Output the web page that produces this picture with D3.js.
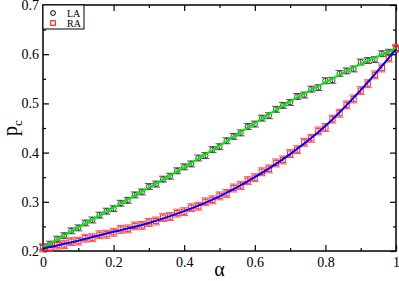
<!DOCTYPE html>
<html>
<head>
<meta charset="utf-8">
<script src="https://cdn.jsdelivr.net/npm/d3@7"></script>
<style>
  html, body { margin: 0; padding: 0; background: #fff; }
  svg { display: block; }
</style>
</head>
<body>
<script>
'use strict';

// alpha values of the simulation points (step 0.02)
const alphas = [0.00, 0.02, 0.04, 0.06, 0.08, 0.10, 0.12, 0.14, 0.16, 0.18,
  0.20, 0.22, 0.24, 0.26, 0.28, 0.30, 0.32, 0.34, 0.36, 0.38,
  0.40, 0.42, 0.44, 0.46, 0.48, 0.50, 0.52, 0.54, 0.56, 0.58,
  0.60, 0.62, 0.64, 0.66, 0.68, 0.70, 0.72, 0.74, 0.76, 0.78,
  0.80, 0.82, 0.84, 0.86, 0.88, 0.90, 0.92, 0.94, 0.96, 0.98, 1.00];

// LA points (black circles)
const laValues = [0.208, 0.214, 0.224, 0.231, 0.241, 0.247, 0.257, 0.263, 0.273, 0.281,
  0.286, 0.297, 0.303, 0.314, 0.320, 0.331, 0.336, 0.346, 0.352, 0.363,
  0.371, 0.377, 0.389, 0.394, 0.406, 0.412, 0.424, 0.433, 0.440, 0.453,
  0.458, 0.470, 0.475, 0.488, 0.496, 0.502, 0.514, 0.517, 0.529, 0.532,
  0.546, 0.547, 0.561, 0.566, 0.570, 0.584, 0.587, 0.589, 0.601, 0.604, 0.611];
const laErr = 0.006;

// RA points (red squares)
const raValues = [0.206, 0.207, 0.212, 0.213, 0.219, 0.220, 0.226, 0.227, 0.233, 0.234,
  0.238, 0.244, 0.245, 0.251, 0.252, 0.258, 0.261, 0.268, 0.270, 0.277,
  0.280, 0.288, 0.291, 0.300, 0.304, 0.312, 0.317, 0.328, 0.333, 0.343,
  0.349, 0.361, 0.367, 0.379, 0.385, 0.398, 0.406, 0.421, 0.429, 0.444,
  0.451, 0.468, 0.480, 0.497, 0.509, 0.526, 0.540, 0.558, 0.572, 0.592, 0.612];
const raErr = 0.008;

// fitted curves
const fitAlphas = [0, 0.1, 0.2, 0.3, 0.4, 0.5, 0.6, 0.7, 0.8, 0.9, 1.0];
const laFit = [0.207, 0.248, 0.288, 0.329, 0.370, 0.414, 0.460, 0.504, 0.543, 0.580, 0.611];
const raFit = [0.205, 0.221, 0.239, 0.257, 0.281, 0.311, 0.350, 0.397, 0.454, 0.527, 0.610];

// ticks
const xTicks = [0, 0.2, 0.4, 0.6, 0.8, 1];
const xTickLabels = ["0", "0.2", "0.4", "0.6", "0.8", "1"];
const xMinor = [0.1, 0.3, 0.5, 0.7, 0.9];
const yTicks = [0.2, 0.3, 0.4, 0.5, 0.6, 0.7];
const yTickLabels = ["0.2", "0.3", "0.4", "0.5", "0.6", "0.7"];
const yMinor = [0.25, 0.35, 0.45, 0.55, 0.65];

const seriesNames = ["LA", "RA"];

(function() {
  const W = 399, H = 281;
  const left = 43, right = 396, top = 5, bottom = 251;
  const font = "'Liberation Serif', 'DejaVu Serif', serif";

  let svgContainer = d3.select('body')
    .append('svg')
    .attr('width', W)
    .attr('height', H);

  let xScale = d3.scaleLinear().domain([0, 1]).range([left, right]);
  let yScale = d3.scaleLinear().domain([0.2, 0.7]).range([bottom, top]);

  drawAxes();
  plotData();
  makeLabels();
  makeLegend();

  function drawAxes() {
    // bottom + top axis, ticks pointing inward
    let xb = d3.axisBottom(xScale).tickValues(xTicks).tickSizeInner(-6).tickSizeOuter(0)
      .tickFormat((d, i) => xTickLabels[i]);
    let gxb = svgContainer.append('g').attr('transform', `translate(0, ${bottom})`).call(xb);
    gxb.selectAll('text').attr('dy', null).attr('y', 16);

    let xbm = d3.axisBottom(xScale).tickValues(xMinor).tickSizeInner(-3).tickSizeOuter(0).tickFormat('');
    svgContainer.append('g').attr('transform', `translate(0, ${bottom})`).call(xbm);

    let xt = d3.axisTop(xScale).tickValues(xTicks).tickSizeInner(-6).tickSizeOuter(0).tickFormat('');
    svgContainer.append('g').attr('transform', `translate(0, ${top})`).call(xt);
    let xtm = d3.axisTop(xScale).tickValues(xMinor).tickSizeInner(-3).tickSizeOuter(0).tickFormat('');
    svgContainer.append('g').attr('transform', `translate(0, ${top})`).call(xtm);

    // left + right axis
    let yl = d3.axisLeft(yScale).tickValues(yTicks).tickSizeInner(-6).tickSizeOuter(0)
      .tickFormat((d, i) => yTickLabels[i]);
    let gyl = svgContainer.append('g').attr('transform', `translate(${left}, 0)`).call(yl);
    gyl.selectAll('text').attr('x', -4);

    let ylm = d3.axisLeft(yScale).tickValues(yMinor).tickSizeInner(-3).tickSizeOuter(0).tickFormat('');
    svgContainer.append('g').attr('transform', `translate(${left}, 0)`).call(ylm);

    let yr = d3.axisRight(yScale).tickValues(yTicks).tickSizeInner(-6).tickSizeOuter(0).tickFormat('');
    svgContainer.append('g').attr('transform', `translate(${right}, 0)`).call(yr);
    let yrm = d3.axisRight(yScale).tickValues(yMinor).tickSizeInner(-3).tickSizeOuter(0).tickFormat('');
    svgContainer.append('g').attr('transform', `translate(${right}, 0)`).call(yrm);

    svgContainer.selectAll('.domain').remove();
    svgContainer.selectAll('.tick line').attr('stroke', '#000').attr('stroke-width', 1.2);
    svgContainer.selectAll('.tick text')
      .style('font-family', font)
      .style('font-size', '14px')
      .attr('fill', '#000');

    // frame
    svgContainer.append('rect')
      .attr('x', left).attr('y', top)
      .attr('width', right - left).attr('height', bottom - top)
      .attr('fill', 'none').attr('stroke', '#000').attr('stroke-width', 1.5);
  }

  function plotData() {
    let la = alphas.map((a, i) => ({ a: a, p: laValues[i] }));
    let ra = alphas.map((a, i) => ({ a: a, p: raValues[i] }));

    drawErrorBars(la, laErr, '#333');
    drawErrorBars(ra, raErr, '#ff3030');

    svgContainer.append('g').selectAll('circle')
      .data(la).enter().append('circle')
      .attr('cx', d => xScale(d.a))
      .attr('cy', d => yScale(d.p))
      .attr('r', 2.6)
      .attr('fill', 'none')
      .attr('stroke', '#444')
      .attr('stroke-width', 1);

    svgContainer.append('g').selectAll('rect')
      .data(ra).enter().append('rect')
      .attr('x', d => xScale(d.a) - 2.6)
      .attr('y', d => yScale(d.p) - 2.6)
      .attr('width', 5.2).attr('height', 5.2)
      .attr('fill', 'none')
      .attr('stroke', '#ff3030')
      .attr('stroke-width', 1);

    let line = d3.line()
      .x(d => xScale(d[0]))
      .y(d => yScale(d[1]))
      .curve(d3.curveMonotoneX);

    svgContainer.append('path')
      .datum(fitAlphas.map((a, i) => [a, laFit[i]]))
      .attr('d', line)
      .attr('fill', 'none').attr('stroke', '#00ee00').attr('stroke-width', 2);

    svgContainer.append('path')
      .datum(fitAlphas.map((a, i) => [a, raFit[i]]))
      .attr('d', line)
      .attr('fill', 'none').attr('stroke', '#0000ff').attr('stroke-width', 2);
  }

  function drawErrorBars(pts, err, color) {
    let g = svgContainer.append('g')
      .attr('stroke', color)
      .attr('stroke-width', 1)
      .attr('opacity', 0.85);
    let cap = 4;
    pts.forEach(d => {
      let x = xScale(d.a), y1 = yScale(d.p - err), y2 = yScale(d.p + err);
      g.append('line').attr('x1', x).attr('x2', x).attr('y1', y1).attr('y2', y2);
      g.append('line').attr('x1', x - cap).attr('x2', x + cap).attr('y1', y1).attr('y2', y1);
      g.append('line').attr('x1', x - cap).attr('x2', x + cap).attr('y1', y2).attr('y2', y2);
    });
  }

  function makeLabels() {
    svgContainer.append('text')
      .attr('x', (left + right) / 2)
      .attr('y', 276)
      .attr('text-anchor', 'middle')
      .style('font-family', font)
      .style('font-size', '20px')
      .text('α');

    let yl = svgContainer.append('text')
      .attr('transform', 'translate(17, 128) rotate(-90)')
      .attr('text-anchor', 'middle')
      .style('font-family', font)
      .style('font-size', '20px');
    yl.append('tspan').text('p');
    yl.append('tspan').attr('dy', 5).style('font-size', '13px').text('c');
  }

  function makeLegend() {
    let lg = svgContainer.append('g');
    lg.append('rect')
      .attr('x', left).attr('y', top)
      .attr('width', 41).attr('height', 24)
      .attr('fill', '#fff').attr('stroke', '#000').attr('stroke-width', 1);

    lg.append('circle')
      .attr('cx', 53).attr('cy', 13).attr('r', 2.4)
      .attr('fill', 'none').attr('stroke', '#000');
    lg.append('rect')
      .attr('x', 50.7).attr('y', 20.7).attr('width', 4.6).attr('height', 4.6)
      .attr('fill', 'none').attr('stroke', '#ff0000');

    lg.selectAll('.lgtext')
      .data(seriesNames)
      .enter().append('text')
      .attr('x', 67)
      .attr('y', (d, i) => 16.5 + i * 10)
      .style('font-family', font)
      .style('font-size', '10px')
      .text(d => d);
  }
})();
</script>
</body>
</html>
